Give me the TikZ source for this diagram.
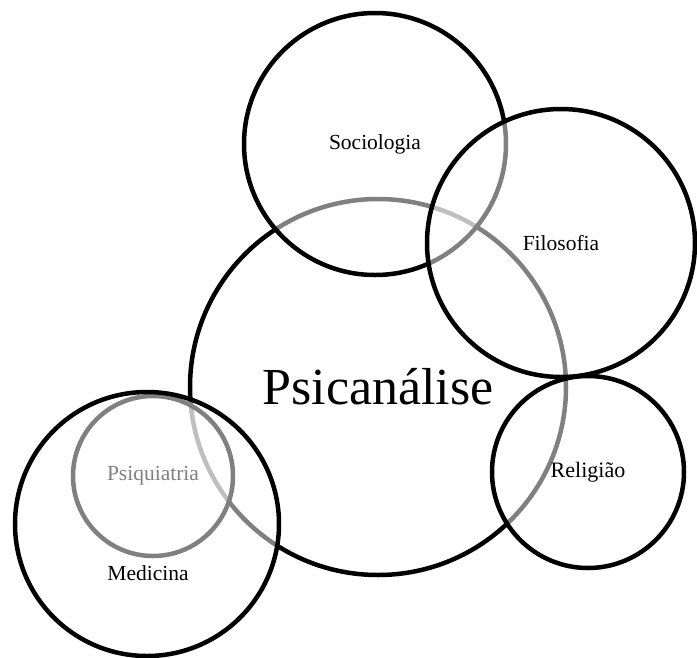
\documentclass[tikz,border=0pt]{standalone}
\usepackage{fontspec}
\setmainfont{Liberation Serif}
\usepackage{tikz}

\begin{document}
\begin{tikzpicture}[
    x=1pt,y=-1pt,
    area/.style={circle,draw,line width=4.5pt,fill=white,fill opacity=0.5,text opacity=1,inner sep=0pt,font=\fontsize{21.5}{24}\selectfont},
    tag/.style={inner sep=0pt,font=\fontsize{21.5}{24}\selectfont}
]
\useasboundingbox (0,0) rectangle (697,657);
\node[area,minimum size=376pt,font=\fontsize{52}{60}\selectfont] (psican) at (378,387) {Psican\'alise};
\node[area,minimum size=160pt] (psiq) at (153,476) {Psiquiatria};
\node[area,minimum size=264pt] (med) at (147,524) {};
\node[tag] (medlabel) at (148,573) {Medicina};
\node[area,minimum size=262pt] (socio) at (375,144) {Sociologia};
\node[area,minimum size=268pt] (filo) at (561,243) {Filosofia};
\node[area,minimum size=192pt,font=\fontsize{22}{24}\selectfont] (relig) at (588,472) {Religi\~ao};
\end{tikzpicture}
\end{document}
